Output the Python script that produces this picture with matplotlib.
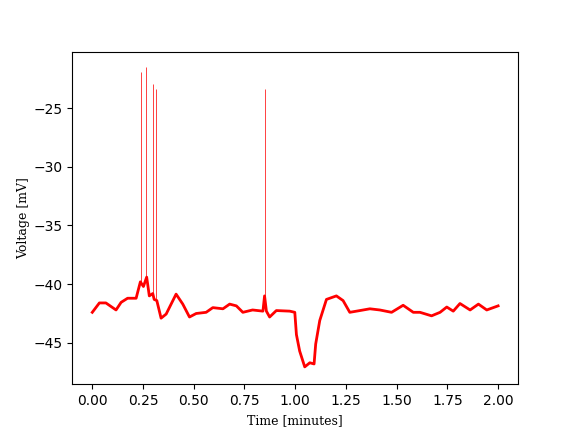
import matplotlib
matplotlib.use("Agg")
import matplotlib.pyplot as plt

# membrane voltage trace (minutes, mV)
time_min = [0.000, 0.035, 0.067, 0.117, 0.142, 0.174, 0.216, 0.237, 0.252,
            0.268, 0.281, 0.298, 0.305, 0.318, 0.339, 0.364, 0.413, 0.446,
            0.479, 0.512, 0.561, 0.594, 0.644, 0.677, 0.710, 0.742, 0.790,
            0.841, 0.849, 0.858, 0.874, 0.907, 0.973, 0.998, 1.006, 1.022,
            1.047, 1.072, 1.093, 1.101, 1.121, 1.154, 1.203, 1.236, 1.269,
            1.319, 1.368, 1.417, 1.475, 1.532, 1.582, 1.615, 1.672, 1.714,
            1.747, 1.779, 1.812, 1.862, 1.903, 1.944, 2.000]
voltage_mv = [-42.4, -41.6, -41.6, -42.2, -41.55, -41.2, -41.2, -39.8, -40.2,
              -39.4, -41.0, -40.8, -41.3, -41.4, -42.9, -42.55, -40.85, -41.7,
              -42.8, -42.5, -42.4, -42.0, -42.1, -41.7, -41.85, -42.4, -42.2,
              -42.3, -41.0, -42.3, -42.8, -42.25, -42.3, -42.4, -44.3, -45.7,
              -47.05, -46.7, -46.8, -45.1, -43.1, -41.3, -41.0, -41.4, -42.4,
              -42.25, -42.1, -42.2, -42.4, -41.8, -42.4, -42.4, -42.7, -42.4,
              -41.95, -42.3, -41.65, -42.2, -41.7, -42.2, -41.85]

# action potentials: time, baseline voltage, peak voltage
spike_t = [0.2405, 0.2667, 0.2968, 0.3146, 0.849]
spike_base = [-40.0, -39.6, -40.9, -41.4, -41.2]
spike_peak = [-21.9, -21.5, -22.95, -23.4, -23.4]

fig, ax = plt.subplots(figsize=(5.76, 4.32), dpi=100)

ax.plot(time_min, voltage_mv, color="red", linewidth=2.0, solid_joinstyle="round")
ax.vlines(spike_t, spike_base, spike_peak, color="red", linewidth=0.7, alpha=0.75)

ax.set_xlim(-0.1, 2.1)
ax.set_ylim(-48.55, -20.2)
ax.set_xticks([0.0, 0.25, 0.5, 0.75, 1.0, 1.25, 1.5, 1.75, 2.0])
ax.set_xlabel("Time [minutes]", family="DejaVu Serif", fontsize=9)
ax.set_ylabel("Voltage [mV]", family="DejaVu Serif", fontsize=9, labelpad=2)

fig.savefig("out.png", dpi=100)
